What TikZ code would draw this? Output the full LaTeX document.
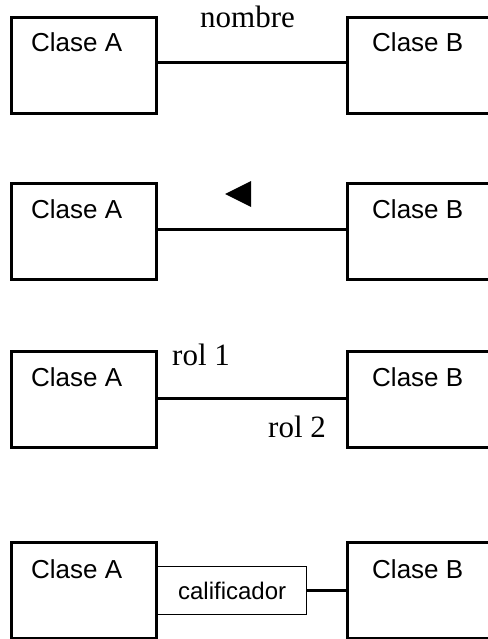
\documentclass[tikz,border=0pt]{standalone}
\usepackage{fontspec}
\setmainfont{Liberation Serif}
\setsansfont{Liberation Sans}
\begin{document}
\begin{tikzpicture}[x=1pt,y=-1pt,
  cls/.style={draw, line width=3pt, rectangle, minimum width=145pt, minimum height=96pt, inner sep=0pt, anchor=north west},
  clstext/.style={font=\sffamily\fontsize{26}{30}\selectfont, inner sep=0pt, anchor=base west},
  roletext/.style={font=\rmfamily\fontsize{31}{36}\selectfont, inner sep=0pt, anchor=base west},
  assoc/.style={line width=3pt},
  qual/.style={draw, line width=1.2pt, rectangle, minimum width=149pt, minimum height=48pt, inner sep=0pt, anchor=west, font=\sffamily\fontsize{24}{28}\selectfont}]
\useasboundingbox (0,0) rectangle (487,639);
% Row 1
\node[cls] (a1) at (9.5,16) {};
\node[cls] (b1) at (345.5,16) {};
\node[clstext] (ta1) at (31,52) {Clase A};
\node[clstext] (tb1) at (372,52) {Clase B};
\draw[assoc] ([yshift=3pt]a1.east) -- ([yshift=3pt]b1.west);
\node[roletext] (n1) at (200,28) {nombre};
% Row 2
\node[cls] (a2) at (9.5,182) {};
\node[cls] (b2) at (345.5,182) {};
\node[clstext] (ta2) at (31,218) {Clase A};
\node[clstext] (tb2) at (372,218) {Clase B};
\draw[assoc] ([yshift=2pt]a2.east) -- ([yshift=2pt]b2.west);
\coordinate (t1) at (225,194);
\coordinate (t2) at (251,181);
\coordinate (t3) at (251,207);
\fill (t1) -- (t2) -- (t3) -- cycle;
% Row 3
\node[cls] (a3) at (9.5,350) {};
\node[cls] (b3) at (345.5,350) {};
\node[clstext] (ta3) at (31,386) {Clase A};
\node[clstext] (tb3) at (372,386) {Clase B};
\draw[assoc] ([yshift=1pt]a3.east) -- ([yshift=1pt]b3.west);
\node[roletext] (r1) at (172,365) {rol 1};
\node[roletext] (r2) at (268,437) {rol 2};
% Row 4
\node[cls] (a4) at (9.5,541) {};
\node[cls] (b4) at (345.5,541) {};
\node[clstext] (ta4) at (31,578) {Clase A};
\node[clstext] (tb4) at (372,578) {Clase B};
\node[qual] (q) at ([xshift=-0.5pt]a4.east) {calificador};
\draw[assoc] (q.east) -- (q.east -| b4.west);
\end{tikzpicture}
\end{document}
